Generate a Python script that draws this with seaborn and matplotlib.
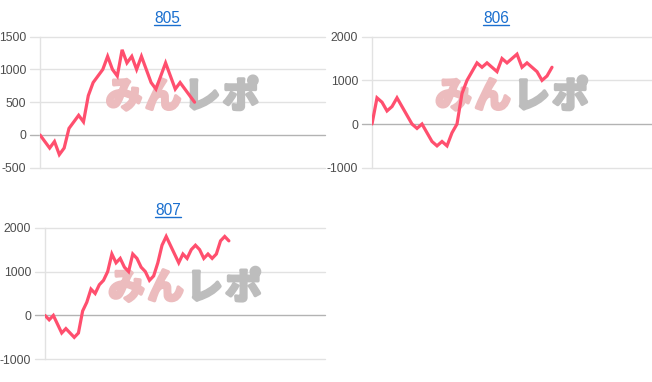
import matplotlib
matplotlib.use("Agg")
import matplotlib.pyplot as plt
import matplotlib.patheffects as pe
import seaborn as sns
import pandas as pd
from matplotlib.lines import Line2D

# ---------------- data ----------------
titles = ["805", "806", "807"]

values_805 = [0, -100, -200, -100, -300, -200, 100, 200, 300, 200, 600, 800, 900,
              1000, 1200, 1000, 900, 1300, 1100, 1200, 1000, 1200, 1000, 800, 700,
              900, 1100, 900, 700, 800, 700, 600, 500]
values_806 = [0, 600, 500, 300, 400, 600, 400, 200, 0, -100, 0, -200, -400, -500,
              -400, -500, -200, 0, 700, 1000, 1200, 1400, 1300, 1400, 1300, 1200,
              1500, 1400, 1500, 1600, 1300, 1400, 1300, 1200, 1000, 1100, 1300]
values_807 = [0, -100, 0, -200, -400, -300, -400, -500, -400, 100, 300, 600, 500,
              700, 800, 1000, 1400, 1200, 1300, 1100, 1000, 1400, 1300, 1100, 1000,
              800, 900, 1200, 1600, 1800, 1600, 1400, 1200, 1400, 1300, 1500, 1600,
              1500, 1300, 1400, 1300, 1400, 1700, 1800, 1700]

yticks_805 = [-500, 0, 500, 1000, 1500]
yticks_806 = [-1000, 0, 1000, 2000]
yticks_807 = [-1000, 0, 1000, 2000]

watermark_chars = ["み", "ん", "レ", "ポ"]

# ---------------- style ----------------
W, H = 652, 382
LINE_COLOR = "#ff4f6e"
GRID_COLOR = "#e2e2e2"
ZERO_COLOR = "#b3b3b3"
TICK_COLOR = "#4d4d4d"
TITLE_COLOR = "#1a6fcf"
WM_COLORS = ["#ecbcbe", "#ecbcbe", "#bdbdbd", "#bdbdbd"]

sns.set_theme(style="white")
plt.rcParams["font.family"] = ["Liberation Sans", "Noto Sans CJK JP", "DejaVu Sans"]

fig = plt.figure(figsize=(W / 100, H / 100), dpi=100)

# axes boxes in pixels: left, right, top, bottom
boxes = [(40, 325, 36.7, 167.7), (372, 652, 36.7, 167.7), (45, 325, 227.7, 359.3)]
xmaxes = [59, 56, 67]
series = [values_805, values_806, values_807]
yticks = [yticks_805, yticks_806, yticks_807]
title_pos = [(167, 23.3), (496, 23.3), (168, 215.0)]

title_texts = []
for (l, r, t, b), xmax, vals, yt, name, (tx, ty) in zip(
        boxes, xmaxes, series, yticks, titles, title_pos):
    ax = fig.add_axes([l / W, 1 - b / H, (r - l) / W, (b - t) / H])
    df = pd.DataFrame({"x": range(len(vals)), "y": vals})
    sns.lineplot(data=df, x="x", y="y", ax=ax, color=LINE_COLOR, lw=2.3,
                 zorder=4, solid_joinstyle="miter")
    ax.set_xlim(0, xmax)
    ax.set_ylim(yt[0], yt[-1])
    ax.set_xlabel("")
    ax.set_ylabel("")
    ax.set_xticks([])
    ax.set_yticks(yt)
    ax.set_yticklabels([str(v) for v in yt])
    ax.tick_params(axis="y", length=0, pad=10, labelsize=8.8, labelcolor=TICK_COLOR)
    for s in ["top", "right", "bottom"]:
        ax.spines[s].set_visible(False)
    ax.spines["left"].set_color(GRID_COLOR)
    ax.spines["left"].set_linewidth(1)
    ext = -10 / (r - l)
    for v in yt:
        ax.axhline(v, xmin=ext, xmax=1, clip_on=False,
                   color=ZERO_COLOR if v == 0 else GRID_COLOR, lw=1, zorder=1)

    # watermark
    step = 39 / (r - l)
    for i, (ch, c) in enumerate(zip(watermark_chars, WM_COLORS)):
        ax.text(0.5 + (i - 1.5) * step, 0.54, ch, transform=ax.transAxes,
                ha="center", va="center", fontsize=26, fontweight="bold",
                color=c, family=["Noto Sans CJK JP", "DejaVu Sans"], zorder=2,
                path_effects=[pe.withStroke(linewidth=2.5, foreground=c)])

    tt = fig.text(tx / W, 1 - ty / H, name, ha="center", va="baseline",
                  fontsize=11.2, color=TITLE_COLOR)
    title_texts.append((tt, ty))

fig.canvas.draw()
renderer = fig.canvas.get_renderer()
for tt, ty in title_texts:
    bb = tt.get_window_extent(renderer)
    yline = 1 - (ty + 1.8) / H
    fig.add_artist(Line2D([bb.x0 / W, bb.x1 / W], [yline, yline],
                          transform=fig.transFigure, color=TITLE_COLOR, lw=1))

fig.savefig("out.png", dpi=100)
